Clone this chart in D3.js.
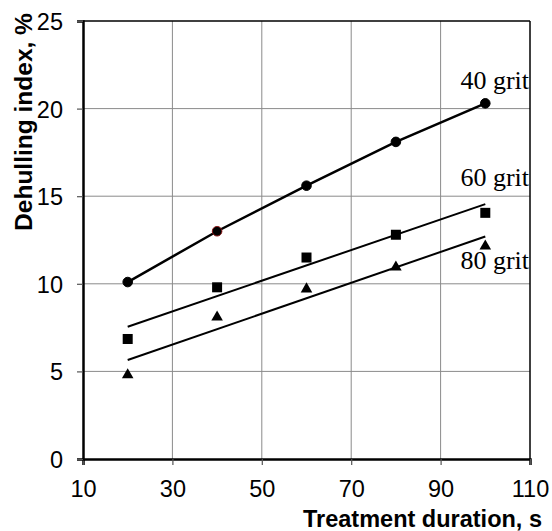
<!DOCTYPE html>
<html>
<head>
<meta charset="utf-8">
<script src="https://cdn.jsdelivr.net/npm/d3@7"></script>
<style>
  body { margin: 0; background: #fff; }
  svg { display: block; }
</style>
</head>
<body>
<div id="chart"></div>
<script>
// datos
const durations = [20, 40, 60, 80, 100];
const grit40 = [10.1, 13.0, 15.6, 18.1, 20.3];
const grit60 = [6.85, 9.8, 11.5, 12.8, 14.05];
const grit80 = [4.8, 8.1, 9.7, 10.95, 12.15];
// líneas de tendencia (extremos)
const trendX = [20, 100];
const trend60 = [7.55, 14.55];
const trend80 = [5.65, 12.7];
const xTicks = [10, 30, 50, 70, 90, 110];
const yTicks = [0, 5, 10, 15, 20, 25];
const seriesLabels = ["40 grit", "60 grit", "80 grit"];
const labelValues = [21.1, 15.6, 10.85];

const width = 552, height = 531;
const margin = { top: 21, right: 22, bottom: 72, left: 83 };

const svg = d3.select("#chart")
    .append("svg")
    .attr("width", width)
    .attr("height", height);

const x = d3.scaleLinear()
    .domain([10, 110])
    .range([margin.left, width - margin.right]);

const y = d3.scaleLinear()
    .domain([0, 25])
    .range([height - margin.bottom, margin.top]);

// rejilla
svg.append("g")
    .selectAll("line")
    .data(xTicks.slice(1, -1))
    .enter()
    .append("line")
    .attr("x1", d => x(d)).attr("x2", d => x(d))
    .attr("y1", y(0)).attr("y2", y(25))
    .attr("stroke", "#8a8a8a")
    .attr("stroke-width", 1);

svg.append("g")
    .selectAll("line")
    .data(yTicks.slice(1, -1))
    .enter()
    .append("line")
    .attr("x1", x(10)).attr("x2", x(110))
    .attr("y1", d => y(d)).attr("y2", d => y(d))
    .attr("stroke", "#8a8a8a")
    .attr("stroke-width", 1);

// marco superior y derecho
svg.append("line")
    .attr("x1", x(10)).attr("x2", x(110))
    .attr("y1", y(25)).attr("y2", y(25))
    .attr("stroke", "#000").attr("stroke-width", 1.5);
svg.append("line")
    .attr("x1", x(110)).attr("x2", x(110))
    .attr("y1", y(25)).attr("y2", y(0))
    .attr("stroke", "#000").attr("stroke-width", 1.5);

// ejes
const xAxis = svg.append("g")
    .attr("transform", `translate(0,${y(0)})`)
    .call(d3.axisBottom(x).tickValues(xTicks).tickSize(6).tickPadding(10));

const yAxis = svg.append("g")
    .attr("transform", `translate(${x(10)},0)`)
    .call(d3.axisLeft(y).tickValues(yTicks).tickSize(6).tickPadding(14));

[xAxis, yAxis].forEach(g => {
    g.select(".domain").attr("stroke", "#000").attr("stroke-width", 2.5);
    g.selectAll(".tick line").attr("stroke", "#555").attr("stroke-width", 1.2);
    g.selectAll(".tick text")
        .attr("fill", "#000")
        .style("font-family", "Arial, 'Liberation Sans', sans-serif")
        .style("font-size", "23.5px");
});
yAxis.selectAll(".tick text").attr("dy", "0.36em");
xAxis.selectAll(".tick text").attr("dy", "0.95em");

// títulos de los ejes
svg.append("text")
    .attr("x", 542)
    .attr("y", 527)
    .attr("text-anchor", "end")
    .style("font-family", "Arial, 'Liberation Sans', sans-serif")
    .style("font-weight", "bold")
    .style("font-size", "23.5px")
    .text("Treatment duration, s");

svg.append("text")
    .attr("transform", "translate(32,122) rotate(-90)")
    .attr("text-anchor", "middle")
    .style("font-family", "Arial, 'Liberation Sans', sans-serif")
    .style("font-weight", "bold")
    .style("font-size", "24.5px")
    .text("Dehulling index, %");

// líneas
const line = d3.line()
    .x(d => x(d[0]))
    .y(d => y(d[1]));

svg.append("path")
    .datum(d3.zip(durations, grit40))
    .attr("d", line)
    .attr("fill", "none")
    .attr("stroke", "#000")
    .attr("stroke-width", 2.5);

[trend60, trend80].forEach(t => {
    svg.append("path")
        .datum(d3.zip(trendX, t))
        .attr("d", line)
        .attr("fill", "none")
        .attr("stroke", "#000")
        .attr("stroke-width", 2);
});

// marcadores
svg.selectAll(".dot40")
    .data(d3.zip(durations, grit40))
    .enter()
    .append("circle")
    .attr("class", "dot40")
    .attr("cx", d => x(d[0]))
    .attr("cy", d => y(d[1]))
    .attr("r", 4.8)
    .attr("fill", "#000")
    .attr("stroke", (d, i) => i === 1 ? "#8b1a1a" : "#000")
    .attr("stroke-width", 1);

svg.selectAll(".sq60")
    .data(d3.zip(durations, grit60))
    .enter()
    .append("rect")
    .attr("class", "sq60")
    .attr("x", d => x(d[0]) - 5)
    .attr("y", d => y(d[1]) - 5)
    .attr("width", 10)
    .attr("height", 10)
    .attr("fill", "#000");

const tri = d3.symbol().type(d3.symbolTriangle).size(58);
svg.selectAll(".tri80")
    .data(d3.zip(durations, grit80))
    .enter()
    .append("path")
    .attr("class", "tri80")
    .attr("d", tri)
    .attr("transform", d => `translate(${x(d[0])},${y(d[1])})`)
    .attr("fill", "#000");

// etiquetas de las series
svg.selectAll(".lbl")
    .data(seriesLabels)
    .enter()
    .append("text")
    .attr("class", "lbl")
    .attr("x", x(110) - 1)
    .attr("y", (d, i) => y(labelValues[i]))
    .attr("text-anchor", "end")
    .style("font-family", "'Times New Roman', 'Liberation Serif', serif")
    .style("font-size", "26px")
    .text(d => d);
</script>
</body>
</html>
